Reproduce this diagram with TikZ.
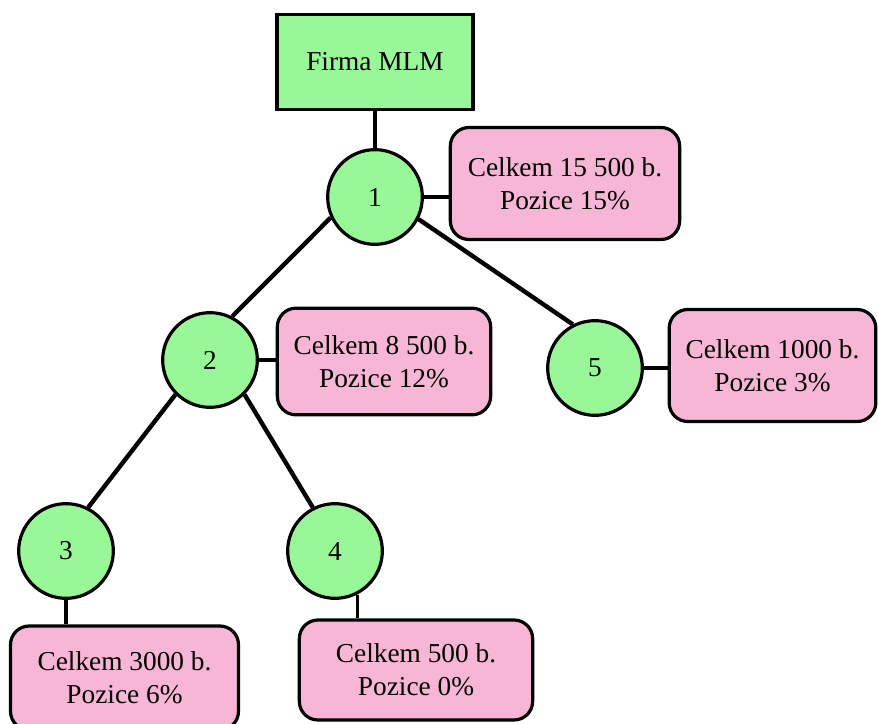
\documentclass[tikz,border=0pt]{standalone}
\usepackage{fontspec}
\setmainfont{Liberation Serif}
\definecolor{nodegreen}{RGB}{152,248,152}
\definecolor{notepink}{RGB}{247,182,214}
\begin{document}
\begin{tikzpicture}[x=0.75pt,y=-0.75pt,
  every node/.style={font=\fontsize{20.5}{24.5}\selectfont, align=center, inner sep=0pt},
  member/.style={circle, draw=black, line width=2.4pt, fill=nodegreen, minimum size=71pt},
  firm/.style={rectangle, draw=black, line width=2.4pt, fill=nodegreen},
  note/.style={rectangle, rounded corners=14pt, draw=black, line width=2.4pt, fill=notepink},
  link/.style={line width=3.3pt},
  stub/.style={line width=2.4pt}]
\useasboundingbox (0,0) rectangle (878,724);
\begin{scope}
\clip (0,0) rectangle (878,724);
% company and members
\node[firm, minimum width=147pt, minimum height=71pt] (f) at (375,62) {Firma MLM};
\node[member] (c1) at (375,197) {1};
\node[member] (c2) at (210,360) {2};
\node[member] (c5) at (595,368) {5};
\node[member] (c3) at (66,551) {3};
\node[member] (c4) at (335,551) {4};
% point totals
\node[note, minimum width=172pt, minimum height=84pt] (b1) at (565,183.5) {Celkem 15 500 b.\\Pozice 15\%};
\node[note, minimum width=160pt, minimum height=80pt] (b2) at (384,361.5) {Celkem 8 500 b.\\Pozice 12\%};
\node[note, minimum width=155pt, minimum height=84pt] (b5) at (772.5,365.5) {Celkem 1000 b.\\Pozice 3\%};
\node[note, minimum width=171pt, minimum height=78pt] (b3) at (124.5,678) {Celkem 3000 b.\\Pozice 6\%};
\node[note, minimum width=175pt, minimum height=75pt] (b4) at (416,670) {Celkem 500 b.\\Pozice 0\%};
% tree edges
\draw[stub] (f.south) -- (c1.north);
\draw[link] (c1.205) -- (c2.63);
\draw[link] (c1.-27) -- (c5.117);
\draw[link] (c2.225) -- (c3.63);
\draw[link] (c2.-45) -- (c4.117);
% member to total
\draw[stub] (c1.east) -- (c1.east -| b1.west);
\draw[stub] (c2.east) -- (c2.east -| b2.west);
\draw[stub] (c5.east) -- (c5.east -| b5.west);
\draw[stub] (c3.south) -- (c3.south |- b3.north);
\draw[stub] (c4.-63) -- (c4.-63 |- b4.north);
\end{scope}
\end{tikzpicture}
\end{document}
